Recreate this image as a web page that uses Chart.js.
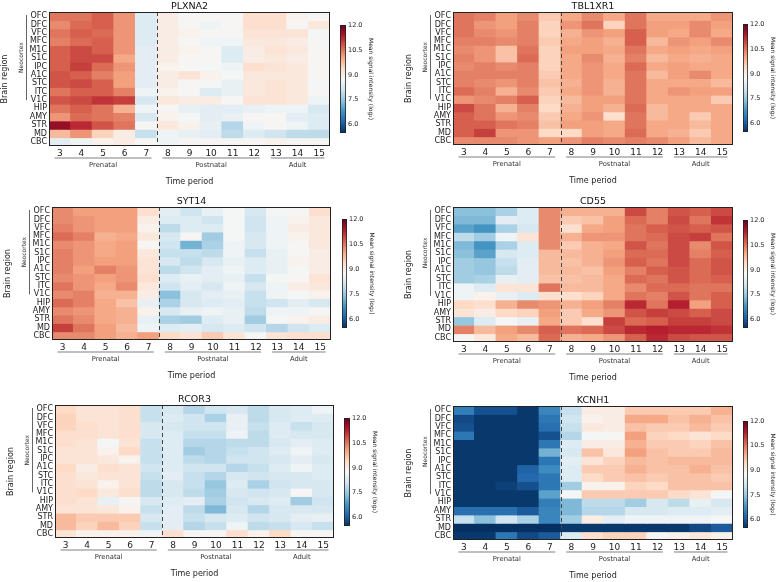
<!DOCTYPE html>
<html><head><meta charset="utf-8">
<script src="https://cdn.jsdelivr.net/npm/chart.js@4.4.0/dist/chart.umd.min.js"></script>
<style>
html,body{margin:0;padding:0;background:#fff;width:778px;height:582px;overflow:hidden;position:relative}
canvas{position:absolute}
</style></head><body>
<script>
// ---------- data ----------
const regions = ['OFC','DFC','VFC','MFC','M1C','S1C','IPC','A1C','STC','ITC','V1C','HIP','AMY','STR','MD','CBC'];
const periods = ['3','4','5','6','7','8','9','10','11','12','13','14','15'];
const groups = [['Prenatal','3','7'],['Postnatal','8','12'],['Adult','13','15']];
const colorbarTicks = [6.0, 7.5, 9.0, 10.5, 12.0];
const colorRange = [5.5, 12.0];
const neocortexRows = ['OFC','V1C'];

const PLXNA2 = [
[10.5,10.5,10.7,10.2,8.3,9.0,8.8,8.8,8.8,9.3,9.3,8.9,8.8],
[10.3,10.6,10.7,10.2,8.3,9.0,8.8,8.6,8.8,9.3,9.3,8.8,9.1],
[10.5,10.7,10.6,10.2,8.3,9.0,8.9,8.8,8.8,9.2,9.2,9.2,8.7],
[10.4,10.6,10.7,10.2,8.3,9.0,8.8,8.6,8.6,9.1,9.1,9.0,8.8],
[10.7,10.9,10.7,10.2,8.4,9.0,8.9,8.8,8.3,9.0,9.2,9.1,8.8],
[10.7,10.9,10.9,10.0,8.4,9.0,8.8,8.8,8.3,9.0,9.1,9.0,8.8],
[10.7,11.0,10.6,10.2,8.4,8.9,8.8,8.7,8.6,9.3,9.2,9.1,8.8],
[10.8,10.7,10.4,10.1,8.4,9.0,9.2,8.9,8.7,9.1,9.1,9.1,8.8],
[10.8,10.9,10.7,10.1,8.4,9.0,8.8,8.7,8.5,9.1,9.2,9.1,8.7],
[10.5,10.7,10.7,10.4,8.6,8.9,8.8,8.3,8.5,9.1,9.2,9.1,8.8],
[10.8,10.9,11.1,11.0,8.2,9.1,9.0,9.0,8.8,9.2,9.2,9.1,8.6],
[10.5,10.7,10.5,9.9,8.6,8.8,8.5,8.4,8.4,8.5,8.6,8.6,8.2],
[10.2,10.6,10.5,10.4,8.2,8.9,8.7,8.4,8.5,8.8,8.8,8.4,8.3],
[11.6,11.2,10.8,10.5,8.8,9.1,8.9,8.5,7.8,8.6,8.8,8.6,8.3],
[9.8,10.2,9.5,9.0,8.0,8.6,8.5,8.4,7.9,8.3,8.1,7.9,7.9],
[8.4,8.6,8.9,9.0,8.8,8.6,8.8,8.8,8.8,8.8,8.9,8.8,8.8]
];
const TBL1XR1 = [
[10.5,10.4,10.1,10.3,9.6,10.0,10.3,10.0,10.5,10.0,10.0,10.0,10.2],
[10.5,10.2,10.1,10.4,9.5,10.2,10.5,9.5,10.5,10.1,10.1,10.3,10.1],
[10.5,10.3,10.2,10.4,9.5,9.9,10.2,10.1,10.7,10.1,10.0,10.3,10.0],
[10.4,10.4,10.3,10.4,9.6,10.0,10.1,9.9,10.7,9.8,10.2,10.1,10.3],
[10.3,10.2,9.7,10.5,9.5,10.1,10.1,10.0,10.5,10.0,10.1,10.0,10.1],
[10.4,10.2,9.7,10.6,9.5,10.0,10.3,9.9,10.4,9.8,10.0,9.9,10.0],
[10.3,10.4,10.3,10.4,9.5,10.0,10.2,10.0,10.6,10.0,10.1,10.0,10.0],
[10.4,10.4,10.4,10.4,9.6,10.0,10.2,10.0,10.5,9.8,10.1,10.3,10.0],
[10.4,10.3,10.2,10.4,9.7,9.9,10.2,9.9,10.5,10.0,10.0,10.0,9.8],
[10.6,10.4,9.9,10.3,9.6,10.0,10.2,9.9,10.5,10.0,10.2,10.1,10.1],
[10.2,10.3,10.4,10.7,9.5,9.8,10.1,10.1,10.5,10.0,10.0,10.0,9.6],
[10.9,10.5,9.9,10.4,9.4,9.9,10.1,9.9,10.6,9.8,10.0,10.0,10.0],
[10.7,10.5,10.2,10.3,9.6,10.0,10.2,9.3,10.5,9.8,10.0,9.6,10.0],
[10.7,10.7,10.5,10.4,9.7,10.1,10.1,10.0,10.5,10.0,10.0,9.8,10.0],
[10.7,11.0,10.2,10.2,9.4,9.4,10.1,10.0,10.6,10.0,9.9,9.6,10.0],
[10.3,10.3,10.3,10.2,10.1,10.2,10.4,10.3,10.4,10.3,10.1,9.8,10.0]
];
const SYT14 = [
[10.3,10.1,10.1,10.1,9.3,8.4,8.1,8.5,8.7,8.2,8.7,8.8,9.3],
[10.3,10.2,10.1,10.1,9.0,8.3,8.3,8.1,8.7,8.1,8.6,8.9,9.1],
[10.4,10.2,10.1,10.1,8.9,7.9,8.3,8.3,8.7,8.1,8.6,9.0,9.1],
[10.6,10.4,9.9,10.0,9.1,8.2,8.8,7.6,8.7,8.2,8.6,8.9,9.1],
[10.3,10.2,10.0,10.1,8.8,8.1,7.2,7.7,8.6,8.2,8.6,8.8,9.1],
[10.4,10.2,10.0,10.1,9.1,8.0,8.0,7.9,8.6,8.0,8.5,8.8,9.0],
[10.4,10.2,10.1,10.1,9.2,8.2,7.9,8.2,8.5,8.3,8.5,8.9,9.0],
[10.4,10.1,10.4,10.2,9.2,7.9,8.1,8.4,8.6,8.3,8.5,8.7,9.0],
[10.3,10.2,10.1,10.2,9.3,8.3,8.5,8.4,8.5,8.0,8.7,8.8,9.2],
[10.5,10.2,10.0,10.3,9.1,8.1,8.4,8.2,8.6,8.2,8.6,9.0,9.1],
[10.3,10.4,9.9,9.9,9.0,7.4,8.2,8.4,8.5,8.0,8.6,8.7,8.9],
[10.6,10.4,10.0,9.7,8.5,7.7,8.2,8.3,8.4,8.0,8.1,8.4,8.2],
[10.3,10.2,10.0,9.9,8.9,8.2,8.5,8.6,8.5,7.9,8.6,8.6,8.8],
[10.5,10.3,10.0,9.9,8.5,7.7,7.6,8.3,8.5,7.6,8.7,8.9,9.0],
[11.0,10.5,10.1,9.8,8.6,8.3,8.4,8.2,8.3,8.1,7.8,8.1,8.3],
[10.3,10.3,10.1,9.9,10.1,9.4,9.2,9.6,9.2,8.7,9.2,9.3,9.3]
];
const CD55 = [
[7.4,7.4,7.7,8.3,10.3,9.9,9.9,9.9,10.9,10.4,10.8,10.7,10.9],
[7.3,7.3,8.4,8.3,10.3,9.6,9.7,10.1,10.6,10.4,10.9,10.5,11.1],
[7.0,6.8,7.7,8.2,10.3,9.3,10.0,10.1,10.5,10.7,10.8,10.7,10.8],
[7.9,7.6,8.6,9.2,10.3,9.9,10.2,10.2,10.5,10.6,10.9,11.0,10.5],
[7.3,6.8,7.7,8.3,10.3,9.6,9.9,10.0,10.8,10.5,10.9,10.3,10.8],
[7.4,7.0,8.2,8.3,9.8,9.8,9.9,10.1,10.6,10.6,10.9,10.4,10.7],
[7.6,7.5,8.0,8.4,9.8,9.7,9.9,10.2,10.7,10.5,10.9,10.6,10.8],
[7.6,7.5,7.9,8.4,9.8,9.8,9.7,10.1,10.4,10.7,10.8,10.6,10.8],
[7.6,7.7,8.5,8.4,9.7,9.7,9.8,10.0,10.6,10.5,10.8,10.6,10.7],
[8.6,8.3,9.2,9.2,10.5,9.8,9.8,10.0,10.3,10.6,10.6,10.5,10.5],
[8.6,8.9,8.5,8.3,9.3,9.3,9.5,10.0,10.5,10.4,10.8,10.5,10.7],
[9.4,9.3,9.9,10.3,10.2,9.9,10.1,10.4,11.2,10.5,11.3,10.1,10.7],
[9.2,9.0,9.4,9.5,10.1,9.6,10.0,10.2,10.8,11.0,10.9,10.7,10.9],
[7.5,8.3,8.7,8.5,10.0,9.6,9.3,11.0,10.6,10.7,11.0,11.0,10.9],
[10.4,9.8,10.1,10.3,10.7,10.5,10.6,10.9,11.2,11.3,11.2,11.2,11.1],
[8.8,9.1,10.0,9.8,10.6,9.9,10.0,10.2,10.7,11.2,10.9,10.8,10.8]
];
const RCOR3 = [
[9.4,9.2,9.2,9.3,8.0,8.2,7.8,8.1,8.2,7.9,8.2,8.3,8.6],
[9.5,9.2,9.2,9.3,8.0,8.3,8.1,7.7,8.5,7.9,8.2,8.3,8.3],
[9.5,9.3,9.2,9.3,8.2,8.2,8.1,8.1,8.5,8.0,8.3,8.0,8.2],
[9.3,9.3,9.2,9.3,8.2,8.3,8.0,8.0,8.6,7.9,8.3,8.2,8.2],
[9.3,9.2,8.7,9.2,8.0,8.3,7.8,7.8,7.9,7.9,8.2,8.4,8.3],
[9.2,9.2,8.9,9.4,8.0,8.3,7.6,7.8,8.0,8.1,8.3,8.6,8.3],
[9.2,9.2,9.1,8.9,8.0,8.3,7.9,7.8,8.1,8.1,8.2,8.4,8.2],
[9.4,9.0,9.3,9.2,8.1,8.3,8.1,8.1,7.8,8.0,8.3,8.6,8.3],
[9.3,9.1,9.2,9.2,8.0,8.4,8.0,7.8,8.2,8.1,8.2,8.2,8.3],
[9.3,9.2,8.9,9.2,7.9,8.2,8.0,7.5,8.3,7.7,8.1,8.2,8.2],
[9.3,9.4,9.1,9.3,7.9,8.2,7.9,7.6,8.2,8.1,8.2,8.8,8.2],
[9.3,9.2,8.5,8.8,8.2,8.3,8.4,7.7,8.1,8.2,8.3,7.6,8.1],
[9.2,9.2,9.1,8.9,8.0,8.4,7.9,7.3,8.2,7.8,8.2,8.2,8.2],
[9.8,9.6,9.6,9.6,8.2,8.4,8.0,8.2,8.3,8.1,8.2,8.4,8.5],
[9.8,9.5,9.8,9.5,8.0,8.4,7.8,8.0,8.6,7.9,8.0,8.2,8.0],
[9.2,8.9,8.9,8.9,8.6,9.3,8.8,8.8,9.3,8.9,9.4,8.8,8.8]
];
const KCNH1 = [
[6.5,5.9,5.9,5.6,6.6,8.0,9.0,9.0,9.6,9.6,9.6,9.6,9.9],
[5.8,5.6,5.6,5.6,6.4,8.1,8.9,9.0,10.0,10.0,9.7,9.9,9.7],
[5.9,5.6,5.6,5.6,6.3,8.0,9.1,9.0,9.7,9.6,9.6,9.8,9.6],
[6.4,5.6,5.6,5.6,5.9,7.8,8.7,8.8,10.1,9.5,9.4,9.2,9.4],
[5.6,5.6,5.6,5.6,6.4,8.3,9.0,9.0,9.9,9.6,9.6,9.5,9.7],
[5.6,5.6,5.6,5.6,7.2,8.2,9.7,9.1,10.1,9.7,9.6,9.6,9.8],
[5.6,5.6,5.6,5.6,6.4,8.4,9.2,9.5,9.8,9.7,9.8,9.8,9.8],
[5.6,5.6,5.6,6.1,6.7,8.3,9.6,9.6,9.9,9.7,9.7,9.9,9.7],
[5.6,5.6,5.6,6.2,6.4,8.3,9.4,9.6,9.7,9.6,9.7,9.7,9.6],
[5.6,5.6,5.7,5.9,6.4,7.6,8.9,8.9,9.5,9.4,9.7,9.7,9.7],
[5.6,5.6,5.6,5.6,7.0,8.7,9.6,9.6,9.6,9.6,9.4,9.2,8.7],
[5.6,5.6,5.6,5.6,6.5,7.3,7.9,7.9,7.6,8.2,7.9,8.5,8.2],
[6.3,6.3,6.3,6.0,6.6,7.3,7.8,7.8,8.2,8.2,8.3,8.3,8.4],
[8.0,7.4,8.1,7.7,6.6,7.6,9.0,8.4,8.6,8.6,8.6,8.6,8.7],
[5.5,5.5,5.5,5.5,5.5,5.6,5.6,5.6,5.6,5.6,5.6,5.8,6.0],
[5.6,5.6,6.4,5.8,6.0,8.3,9.3,9.5,9.5,8.8,8.9,9.1,8.9]
];

// ---------- layout (page px) ----------
const panels = [
  {gene:'PLXNA2',  values:PLXNA2,  plot:[49,12,330,146],  cb:[340,25,346,133]},
  {gene:'TBL1XR1', values:TBL1XR1, plot:[453,12,733,145], cb:[743,24,748,132]},
  {gene:'SYT14',   values:SYT14,   plot:[52,207,331,340], cb:[342,219,347,328]},
  {gene:'CD55',    values:CD55,    plot:[453,207,733,342],cb:[743,220,748,328]},
  {gene:'RCOR3',   values:RCOR3,   plot:[55,405,334,538], cb:[344,418,350,526]},
  {gene:'KCNH1',   values:KCNH1,   plot:[453,406,733,540],cb:[743,421,748,528]}
];

const FONT = 'DejaVu Sans';
Chart.defaults.font.family = FONT;
Chart.defaults.color = '#222';

const RDBU_R = ['#053061','#2166ac','#4393c3','#92c5de','#d1e5f0','#f7f7f7','#fddbc7','#f4a582','#d6604d','#b2182b','#67001f'];
function hex(h){return [1,3,5].map(i=>parseInt(h.substr(i,2),16));}
const RGB = RDBU_R.map(hex);
function colorFor(v){
  let t = (v - colorRange[0])/(colorRange[1]-colorRange[0]);
  t = Math.max(0, Math.min(1, t));
  const p = t*(RGB.length-1);
  const i = Math.min(Math.floor(p), RGB.length-2);
  const f = p - i;
  const c = RGB[i].map((a,k)=>Math.round(a + (RGB[i+1][k]-a)*f));
  return `rgb(${c[0]},${c[1]},${c[2]})`;
}

function makeCanvas(left, top, w, h){
  const c = document.createElement('canvas');
  c.width = w; c.height = h;
  c.style.left = left+'px'; c.style.top = top+'px';
  c.style.width = w+'px'; c.style.height = h+'px';
  document.body.appendChild(c);
  return c;
}

const decoPlugin = {
  id:'deco',
  afterDraw(chart, args, o){
    const {ctx, chartArea:a, scales:{x, y}} = chart;
    ctx.save();
    const xd = (x.getPixelForValue(periods.indexOf('7')) + x.getPixelForValue(periods.indexOf('8')))/2;
    ctx.strokeStyle = '#444'; ctx.lineWidth = 1; ctx.setLineDash([4,3]);
    ctx.beginPath(); ctx.moveTo(Math.round(xd)+0.5, a.top); ctx.lineTo(Math.round(xd)+0.5, a.bottom); ctx.stroke();
    ctx.setLineDash([]);
    ctx.strokeStyle = '#222'; ctx.lineWidth = 1;
    ctx.strokeRect(Math.round(a.left)+0.5, Math.round(a.top)+0.5, Math.round(a.right-a.left)-1, Math.round(a.bottom-a.top)-1);
    ctx.fillStyle = '#111'; ctx.textAlign = 'center'; ctx.textBaseline = 'middle';
    ctx.font = `9.5px "${FONT}"`;
    ctx.fillText(o.title, (a.left+a.right)/2, a.top - 5);
    const colW = (a.right - a.left)/periods.length;
    groups.forEach(([name, from, to])=>{
      const x0 = x.getPixelForValue(periods.indexOf(from)) - colW/2 + 5.5;
      const x1 = x.getPixelForValue(periods.indexOf(to)) + colW/2 - 5.5;
      ctx.strokeStyle = '#aaa'; ctx.lineWidth = 1.6;
      ctx.beginPath(); ctx.moveTo(x0, a.bottom+12); ctx.lineTo(x1, a.bottom+12); ctx.stroke();
      ctx.fillStyle = '#333'; ctx.font = `6.8px "${FONT}"`;
      ctx.fillText(name, (x0+x1)/2, a.bottom+19);
    });
    ctx.fillStyle = '#222'; ctx.font = `8px "${FONT}"`;
    ctx.fillText('Time period', (a.left+a.right)/2, a.bottom+36);
    ctx.save();
    ctx.translate(a.left-44, (a.top+a.bottom)/2);
    ctx.rotate(-Math.PI/2);
    ctx.fillText('Brain region', 0, 0);
    ctx.restore();
    const rowH = (a.bottom-a.top)/regions.length;
    const ny0 = y.getPixelForValue(regions.indexOf(neocortexRows[0])) - rowH/2 + 3;
    const ny1 = y.getPixelForValue(regions.indexOf(neocortexRows[1])) + rowH/2 - 4;
    ctx.strokeStyle = '#666'; ctx.lineWidth = 1;
    ctx.beginPath(); ctx.moveTo(Math.round(a.left-23)+0.5, ny0); ctx.lineTo(Math.round(a.left-23)+0.5, ny1); ctx.stroke();
    ctx.save();
    ctx.translate(a.left-28, (ny0+ny1)/2);
    ctx.rotate(-Math.PI/2);
    ctx.fillStyle = '#333'; ctx.font = `6px "${FONT}"`;
    ctx.fillText('Neocortex', 0, 0);
    ctx.restore();
    ctx.restore();
  }
};

const frameCb = {
  id:'frameCb',
  afterDraw(chart){
    const {ctx, chartArea:a} = chart;
    ctx.save(); ctx.strokeStyle = '#222'; ctx.lineWidth = 0.8;
    ctx.strokeRect(a.left+0.4, a.top+0.4, a.right-a.left-0.8, a.bottom-a.top-0.8);
    ctx.restore();
  }
};

panels.forEach(p=>{
  const [px0, py0, px1, py1] = p.plot;
  const L = px0 - 49, T = py0 - 14;
  const W = (px1 - L) + 3, H = (py1 - T) + 42;
  const cv = makeCanvas(L, T, W, H);
  new Chart(cv, {
    type:'bar',
    data:{
      labels: periods,
      datasets: regions.map((r, i)=>({
        label: r,
        data: periods.map(()=>[i-0.5, i+0.5]),
        backgroundColor: p.values[i].map(colorFor),
        borderWidth: 0,
        barPercentage: 1, categoryPercentage: 1,
        grouped: false,
        inflateAmount: 0.5
      }))
    },
    options:{
      responsive:false, animation:false,
      layout:{padding:{left:0, top:14, right:3, bottom:0}},
      plugins:{legend:{display:false}, tooltip:{enabled:false}, title:{display:false}, deco:{title:p.gene}},
      scales:{
        x:{type:'category', offset:true,
           grid:{display:false, drawTicks:false}, border:{display:false},
           ticks:{font:{size:9}, color:'#222', padding:2, autoSkip:false, maxRotation:0},
           afterFit:s=>{s.height = 42;}},
        y:{type:'linear', min:-0.5, max:15.5, reverse:true,
           grid:{display:false, drawTicks:false}, border:{display:false},
           afterBuildTicks:s=>{s.ticks = regions.map((_, i)=>({value:i}));},
           ticks:{font:{size:8}, color:'#222', padding:2, autoSkip:false, callback:v=>regions[v]},
           afterFit:s=>{s.width = 49;}}
      }
    },
    plugins:[decoPlugin]
  });

  const [cx0, cy0, cx1, cy1] = p.cb;
  const cbw = cx1 - cx0, axisW = 28;
  const cL = cx0 - 2, cT = cy0 - 6;
  const cW = 2 + cbw + axisW, cH = (cy1 - cy0) + 12;
  const cc = makeCanvas(cL, cT, cW, cH);
  new Chart(cc, {
    type:'bar',
    data:{labels:[''], datasets:[{
      data:[colorRange.slice()],
      barPercentage:1, categoryPercentage:1, borderWidth:0,
      backgroundColor:(c)=>{
        const ch = c.chart; if(!ch.chartArea) return '#fff';
        const ys = ch.scales.y;
        const g = ch.ctx.createLinearGradient(0, ys.getPixelForValue(colorRange[0]), 0, ys.getPixelForValue(colorRange[1]));
        RDBU_R.forEach((col, i)=>g.addColorStop(i/(RDBU_R.length-1), col));
        return g;
      }
    }]},
    options:{
      responsive:false, animation:false,
      layout:{padding:{left:2, top:6, right:0, bottom:6}},
      plugins:{legend:{display:false}, tooltip:{enabled:false}},
      scales:{
        x:{display:false},
        y:{type:'linear', position:'right', min:colorRange[0], max:colorRange[1],
           grid:{display:false, drawTicks:false}, border:{display:false},
           afterBuildTicks:s=>{s.ticks = colorbarTicks.map(v=>({value:v}));},
           ticks:{font:{size:6.5}, color:'#222', padding:2, autoSkip:false, callback:v=>v.toFixed(1)},
           title:{display:true, text:'Mean signal intensity (log\u2082)', font:{size:6}, color:'#222', padding:0},
           afterFit:s=>{s.width = axisW;}}
      }
    },
    plugins:[frameCb]
  });
});
</script>
</body></html>
